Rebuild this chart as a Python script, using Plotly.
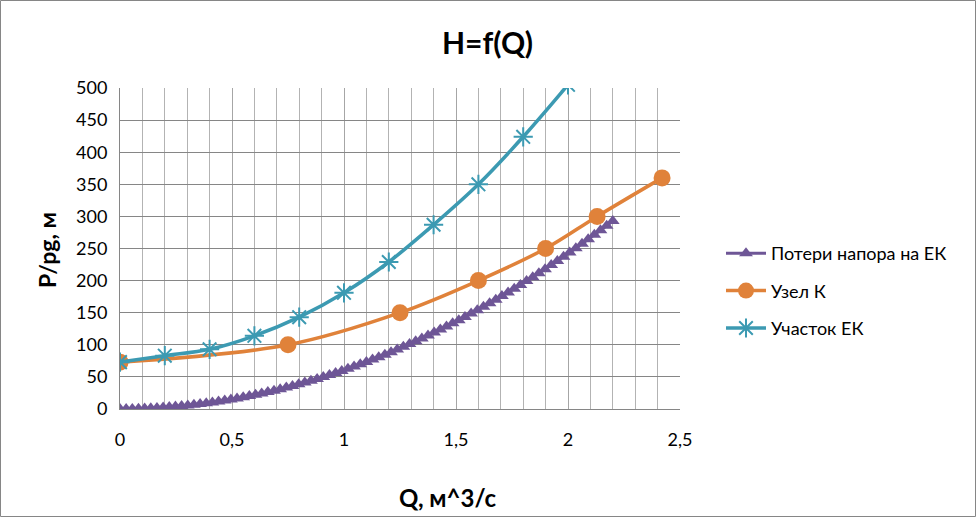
import plotly.graph_objects as go

# Потери напора на ЕК (dense series)
loss_q = [0.0, 0.0275, 0.055, 0.0825, 0.11, 0.1375, 0.165, 0.1925, 0.22, 0.2475,
          0.275, 0.3025, 0.33, 0.3575, 0.385, 0.4125, 0.44, 0.4675, 0.495, 0.5225,
          0.55, 0.5775, 0.605, 0.6325, 0.66, 0.6875, 0.715, 0.7425, 0.77, 0.7975,
          0.825, 0.8525, 0.88, 0.9075, 0.935, 0.9625, 0.99, 1.0175, 1.045, 1.0725,
          1.1, 1.1275, 1.155, 1.1825, 1.21, 1.2375, 1.265, 1.2925, 1.32, 1.3475,
          1.375, 1.4025, 1.43, 1.4575, 1.485, 1.5125, 1.54, 1.5675, 1.595, 1.6225,
          1.65, 1.6775, 1.705, 1.7325, 1.76, 1.7875, 1.815, 1.8425, 1.87, 1.8975,
          1.925, 1.9525, 1.98, 2.0075, 2.035, 2.0625, 2.09, 2.1175, 2.145, 2.1725, 2.2]
loss_h = [0.0, 0.05, 0.18, 0.41, 0.73, 1.14, 1.65, 2.24, 2.93, 3.71,
          4.58, 5.54, 6.59, 7.73, 8.97, 10.29, 11.71, 13.22, 14.82, 16.52,
          18.30, 20.18, 22.14, 24.20, 26.35, 28.60, 30.93, 33.35, 35.87, 38.48,
          41.18, 43.97, 46.85, 49.83, 52.89, 56.05, 59.30, 62.64, 66.07, 69.59,
          73.20, 76.91, 80.71, 84.59, 88.58, 92.65, 96.81, 101.07, 105.41, 109.85,
          114.38, 119.00, 123.72, 128.52, 133.42, 138.40, 143.48, 148.65, 153.91, 159.26,
          164.71, 170.24, 175.87, 181.59, 187.40, 193.31, 199.30, 205.38, 211.56, 217.83,
          224.19, 230.64, 237.18, 243.82, 250.54, 257.36, 264.27, 271.27, 278.36, 285.54, 292.82]

# Узел К
node_q = [0.0, 0.75, 1.25, 1.6, 1.9, 2.13, 2.42]
node_h = [73, 100, 150, 200, 250, 300, 360]

# Участок ЕК
sect_q = [0.0, 0.2, 0.4, 0.6, 0.8, 1.0, 1.2, 1.4, 1.6, 1.8, 2.0]
sect_h = [73, 83, 93, 114, 143, 181, 229, 287, 350, 424, 505]

x_tickvals = [0, 0.5, 1, 1.5, 2, 2.5]
x_ticktext = ["0", "0,5", "1", "1,5", "2", "2,5"]
y_tickvals = [0, 50, 100, 150, 200, 250, 300, 350, 400, 450, 500]

PURPLE = "#6E5696"
ORANGE = "#E0823A"
TEAL = "#3C9AB2"
FONT = "Lato, 'Open Sans', sans-serif"

fig = go.Figure()
fig.add_trace(go.Scatter(
    x=loss_q, y=loss_h, mode="lines+markers", name="Потери напора на ЕК",
    line=dict(color=PURPLE, width=3, shape="spline"),
    marker=dict(symbol="triangle-up", size=12, color=PURPLE),
    legendgroup="a"))
fig.add_trace(go.Scatter(
    x=node_q, y=node_h, mode="lines+markers", name="Узел К",
    line=dict(color=ORANGE, width=3.5, shape="spline"),
    marker=dict(symbol="circle", size=17, color=ORANGE),
    legendgroup="b"))
fig.add_trace(go.Scatter(
    x=sect_q, y=sect_h, mode="lines+markers", name="Участок ЕК",
    line=dict(color=TEAL, width=3.5, shape="spline"),
    marker=dict(symbol="asterisk-open", size=16, color=TEAL,
                line=dict(color=TEAL, width=2)),
    legendgroup="c"))

fig.update_layout(
    width=976, height=517,
    margin=dict(l=120, r=296, t=88, b=108),
    paper_bgcolor="white", plot_bgcolor="white",
    font=dict(family=FONT, size=15, color="#000000"),
    showlegend=True,
    legend=dict(xref="container", yref="container", x=721/976, y=1-235/517,
                xanchor="left", yanchor="top",
                font=dict(size=18, family=FONT), tracegroupgap=11,
                traceorder="grouped", itemwidth=40, bgcolor="rgba(0,0,0,0)"),
    xaxis=dict(range=[0, 2.5], tickvals=x_tickvals, ticktext=x_ticktext,
               showgrid=True, gridcolor="#A6A6A6", gridwidth=1,
               minor=dict(dtick=0.1, showgrid=True, gridcolor="#B3B3B3", gridwidth=1),
               showline=True, linecolor="#868686", linewidth=1,
               zeroline=False, ticks="", ticklabelstandoff=14,
               tickfont=dict(size=18, family=FONT)),
    yaxis=dict(range=[0, 500], tickvals=y_tickvals,
               showgrid=True, gridcolor="#868686", gridwidth=1,
               showline=True, linecolor="#868686", linewidth=1,
               zeroline=False, ticks="", ticklabelstandoff=8,
               tickfont=dict(size=18, family=FONT)),
    annotations=[
        dict(text="<b>H=f(Q)</b>", xref="paper", yref="paper",
             x=(487-120)/560, y=(409-42)/321, xanchor="center", yanchor="middle",
             showarrow=False, font=dict(size=30, family=FONT)),
        dict(text="<b>P/pg, м</b>", xref="paper", yref="paper",
             x=(47-120)/560, y=(409-250)/321, xanchor="center", yanchor="middle",
             textangle=-90, showarrow=False, font=dict(size=23, family=FONT)),
        dict(text="<b>Q, м^3/с</b>", xref="paper", yref="paper",
             x=(447-120)/560, y=(409-497)/321, xanchor="center", yanchor="middle",
             showarrow=False, font=dict(size=24, family=FONT)),
    ],
    shapes=[dict(type="rect", xref="paper", yref="paper",
                 x0=(0.5-120)/560, x1=(975.5-120)/560,
                 y0=(409-516.5)/321, y1=(409-0.5)/321,
                 line=dict(color="#868686", width=1), fillcolor="rgba(0,0,0,0)",
                 layer="below")],
)

fig.write_html("out.html", config={"displayModeBar": False},
               post_script="document.body.style.margin='0';document.body.style.padding='0';")
